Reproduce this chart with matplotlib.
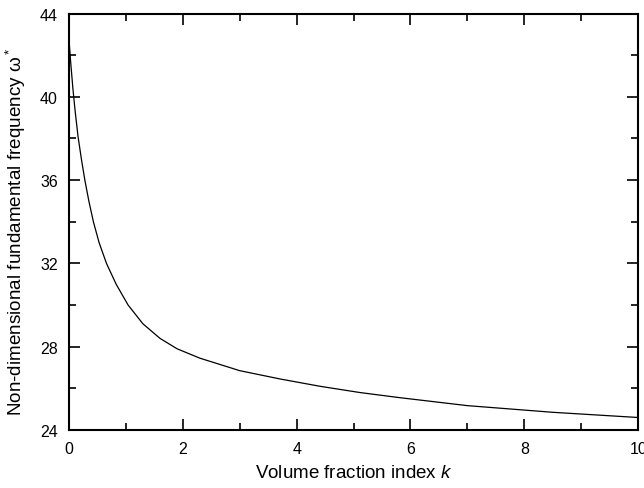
import matplotlib.pyplot as plt
from matplotlib.ticker import MultipleLocator

plt.rcParams['font.family'] = ['Liberation Sans', 'DejaVu Sans']
plt.rcParams['mathtext.fontset'] = 'custom'
plt.rcParams['mathtext.it'] = 'Liberation Sans:italic'
plt.rcParams['mathtext.rm'] = 'Liberation Sans'

# values
k = [0, 0.03, 0.07, 0.11, 0.16, 0.22, 0.28, 0.35, 0.43, 0.53, 0.66, 0.83, 1.04,
     1.3, 1.6, 1.9, 2.3, 3.0, 3.71, 4.41, 5.11, 5.82, 7.0, 8.5, 10]
omega = [42.8, 41.7, 40.4, 39.3, 38.1, 37.0, 36.0, 35.0, 34.0, 33.0, 32.0, 31.0, 30.0,
         29.1, 28.4, 27.9, 27.45, 26.85, 26.45, 26.1, 25.8, 25.55, 25.17, 24.85, 24.6]

fig = plt.figure(figsize=(6.44, 4.89), dpi=100)
ax = fig.add_axes([0.107, 0.1186, 0.884, 0.8517])
ax.plot(k, omega, color='black', lw=0.9)

ax.set_xlim(0, 10)
ax.set_ylim(24, 44)
ax.xaxis.set_major_locator(MultipleLocator(2))
ax.xaxis.set_minor_locator(MultipleLocator(1))
ax.yaxis.set_major_locator(MultipleLocator(4))
ax.yaxis.set_minor_locator(MultipleLocator(2))
ax.tick_params(which='both', direction='in', top=True, right=True, width=1.2, labelsize=11.5)
ax.tick_params(which='major', length=8, pad=8)
ax.tick_params(which='minor', length=5)
for s in ax.spines.values():
    s.set_linewidth(1.5)

ax.set_xlabel('Volume fraction index $k$', fontsize=13.5)
ax.set_ylabel('Non-dimensional fundamental frequency ω$^*$', fontsize=13.6)
ax.xaxis.set_label_coords(0.5, -0.082)
ax.yaxis.set_label_coords(-0.072, 0.478)

fig.savefig('out.png')
